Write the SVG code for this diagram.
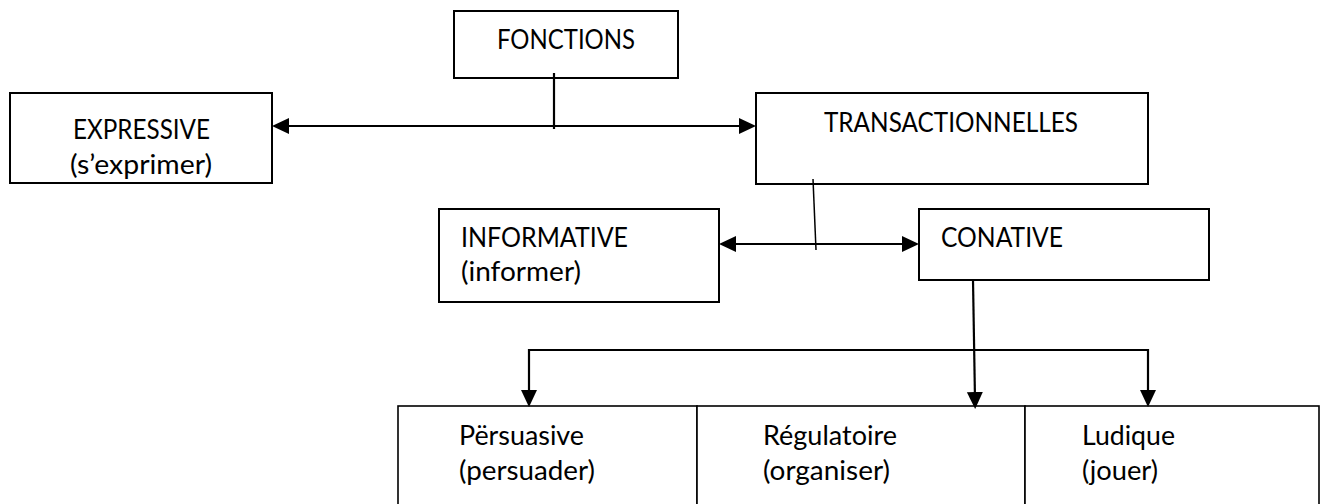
<svg xmlns="http://www.w3.org/2000/svg" width="1327" height="504" viewBox="0 0 1327 504">
  <style>
    .box { fill: #ffffff; stroke: #000000; stroke-width: 2; }
    .box2 { fill: #ffffff; stroke: #000000; stroke-width: 1.6; }
    .lbl { font-family: Lato, "Open Sans", "Liberation Sans", sans-serif; font-size: 27px; fill: #000000; }
    .conn { fill: none; stroke: #000000; stroke-width: 2.2; }
    .thin { fill: none; stroke: #000000; stroke-width: 1.5; }
  </style>
  <defs>
    <marker id="arrow" markerUnits="userSpaceOnUse" markerWidth="18" markerHeight="18" viewBox="0 0 18 18" refX="8" refY="8" orient="auto-start-reverse">
      <path d="M0,0 L17,8 L0,16 Z" fill="#000000"/>
    </marker>
  </defs>
  <rect width="1327" height="504" fill="#ffffff"/>

  <g id="fonctions">
    <rect class="box" x="454" y="11" width="224" height="67"/>
    <text class="lbl" x="497" y="49" textLength="138" lengthAdjust="spacingAndGlyphs">FONCTIONS</text>
  </g>
  <g id="expressive">
    <rect class="box" x="10" y="93" width="262" height="90"/>
    <text class="lbl" x="73" y="139" textLength="137" lengthAdjust="spacingAndGlyphs">EXPRESSIVE</text>
    <text class="lbl" x="70" y="174" textLength="142" lengthAdjust="spacingAndGlyphs">(s’exprimer)</text>
  </g>
  <g id="transactionnelles">
    <rect class="box" x="756" y="93" width="392" height="91"/>
    <text class="lbl" x="824" y="132" textLength="254" lengthAdjust="spacingAndGlyphs">TRANSACTIONNELLES</text>
  </g>
  <g id="informative">
    <rect class="box" x="439" y="209" width="280" height="93"/>
    <text class="lbl" x="461" y="247" textLength="167" lengthAdjust="spacingAndGlyphs">INFORMATIVE</text>
    <text class="lbl" x="461" y="281" textLength="120" lengthAdjust="spacingAndGlyphs">(informer)</text>
  </g>
  <g id="conative">
    <rect class="box" x="919" y="209" width="290" height="71"/>
    <text class="lbl" x="941" y="247" textLength="122" lengthAdjust="spacingAndGlyphs">CONATIVE</text>
  </g>
  <g id="persuasive">
    <rect class="box2" x="398" y="406" width="299" height="110"/>
    <text class="lbl" x="459" y="445" textLength="125" lengthAdjust="spacingAndGlyphs">Përsuasive</text>
    <text class="lbl" x="459" y="480" textLength="136" lengthAdjust="spacingAndGlyphs">(persuader)</text>
  </g>
  <g id="regulatoire">
    <rect class="box2" x="697" y="406" width="328" height="110"/>
    <text class="lbl" x="763" y="445" textLength="134" lengthAdjust="spacingAndGlyphs">Régulatoire</text>
    <text class="lbl" x="763" y="480" textLength="127" lengthAdjust="spacingAndGlyphs">(organiser)</text>
  </g>
  <g id="ludique">
    <rect class="box2" x="1025" y="406" width="294" height="110"/>
    <text class="lbl" x="1082" y="445" textLength="93" lengthAdjust="spacingAndGlyphs">Ludique</text>
    <text class="lbl" x="1082" y="480" textLength="76" lengthAdjust="spacingAndGlyphs">(jouer)</text>
  </g>

  <g id="connectors">
    <line class="conn" x1="281" y1="126" x2="747" y2="126" marker-start="url(#arrow)" marker-end="url(#arrow)"/>
    <line class="conn" x1="554" y1="73" x2="554" y2="129"/>
    <line class="thin" x1="813" y1="179" x2="816" y2="250"/>
    <line class="conn" x1="728" y1="244" x2="910" y2="244" marker-start="url(#arrow)" marker-end="url(#arrow)"/>
    <line class="conn" x1="973" y1="280" x2="975" y2="400" marker-end="url(#arrow)"/>
    <polyline class="conn" points="529,398 529,350 1148,350 1148,398" marker-start="url(#arrow)" marker-end="url(#arrow)"/>
  </g>
</svg>
